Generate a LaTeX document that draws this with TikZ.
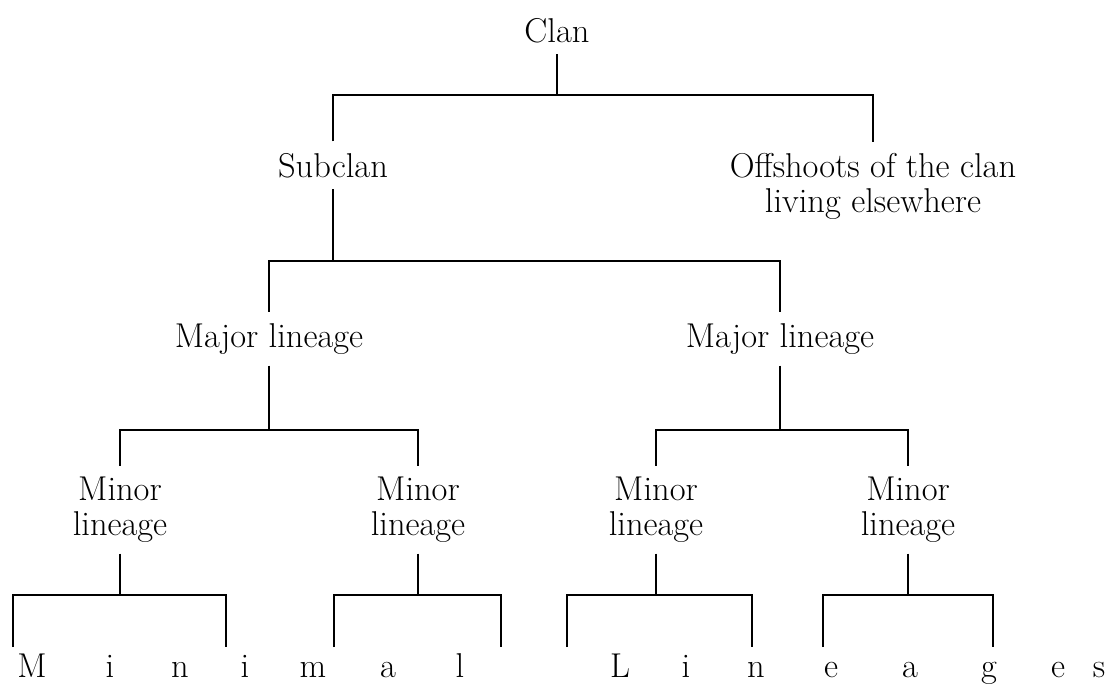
\documentclass[tikz,border=0pt]{standalone}
\usetikzlibrary{calc}

\begin{document}
\begin{tikzpicture}[
    x=0.025cm, y=-0.025cm,
    kin/.style={inner sep=8pt, align=center, anchor=base, font=\fontsize{24.5}{24.2}\selectfont},
    letter/.style={inner sep=0pt, anchor=base, font=\fontsize{24.5}{24.2}\selectfont},
    branch/.style={line width=2.1pt}
]

    \useasboundingbox (0,0) rectangle (1107,685);

    % Nodes ------------------------------------------------------

    % (two-line labels sit on the baseline of their last line)
    \node[kin] (clan) at (557,42) {Clan};
    \node[kin] (sub) at (333,177) {Subclan};
    \node[kin] (off) at (873,212) {Offshoots of the clan\\living elsewhere};
    \node[kin] (maj1) at (269,347) {Major lineage};
    \node[kin] (maj2) at (780,347) {Major lineage};
    \node[kin] (min1) at (120,535) {Minor\\lineage};
    \node[kin] (min2) at (418,535) {Minor\\lineage};
    \node[kin] (min3) at (656,535) {Minor\\lineage};
    \node[kin] (min4) at (908,535) {Minor\\lineage};

    % Minimal lineages, spread out
    \foreach \ch/\x [count=\i] in {M/32, i/110, n/180, i/245, m/313, a/388, l/460,
        L/620, i/686, n/756, e/831, a/910, g/989, e/1058, s/1099}
        \node[letter] (let\i) at (\x,677) {\ch};

    % Bar heights
    \coordinate (bar1) at (0,95);
    \coordinate (bar2) at (0,261);
    \coordinate (bar3) at (0,430);
    \coordinate (bar4) at (0,595);

    % Free ends above the letters
    \coordinate (e1a) at (13,647);  \coordinate (e1b) at (226,647);
    \coordinate (e2a) at (334,647); \coordinate (e2b) at (501,647);
    \coordinate (e3a) at (567,647); \coordinate (e3b) at (752,647);
    \coordinate (e4a) at (823,647); \coordinate (e4b) at (993,647);

    % Lines ------------------------------------------------------

    % Clan
    \draw[branch] (clan.south) -- (clan.south |- bar1);
    \draw[branch] (sub.north) |- (off.north |- bar1) -- (off.north);

    % Subclan
    \draw[branch] (sub.south) -- (sub.south |- bar2);
    \draw[branch] (maj1.north) |- (maj2.north |- bar2) -- (maj2.north);

    % Major lineages
    \draw[branch] (maj1.south) -- (maj1.south |- bar3);
    \draw[branch] (min1.north) |- (min2.north |- bar3) -- (min2.north);
    \draw[branch] (maj2.south) -- (maj2.south |- bar3);
    \draw[branch] (min3.north) |- (min4.north |- bar3) -- (min4.north);

    % Minor lineages
    \draw[branch] (min1.south) -- (min1.south |- bar4);
    \draw[branch] (e1a) |- (bar4 -| e1b) -- (e1b);
    \draw[branch] (min2.south) -- (min2.south |- bar4);
    \draw[branch] (e2a) |- (bar4 -| e2b) -- (e2b);
    \draw[branch] (min3.south) -- (min3.south |- bar4);
    \draw[branch] (e3a) |- (bar4 -| e3b) -- (e3b);
    \draw[branch] (min4.south) -- (min4.south |- bar4);
    \draw[branch] (e4a) |- (bar4 -| e4b) -- (e4b);

\end{tikzpicture}
\end{document}
